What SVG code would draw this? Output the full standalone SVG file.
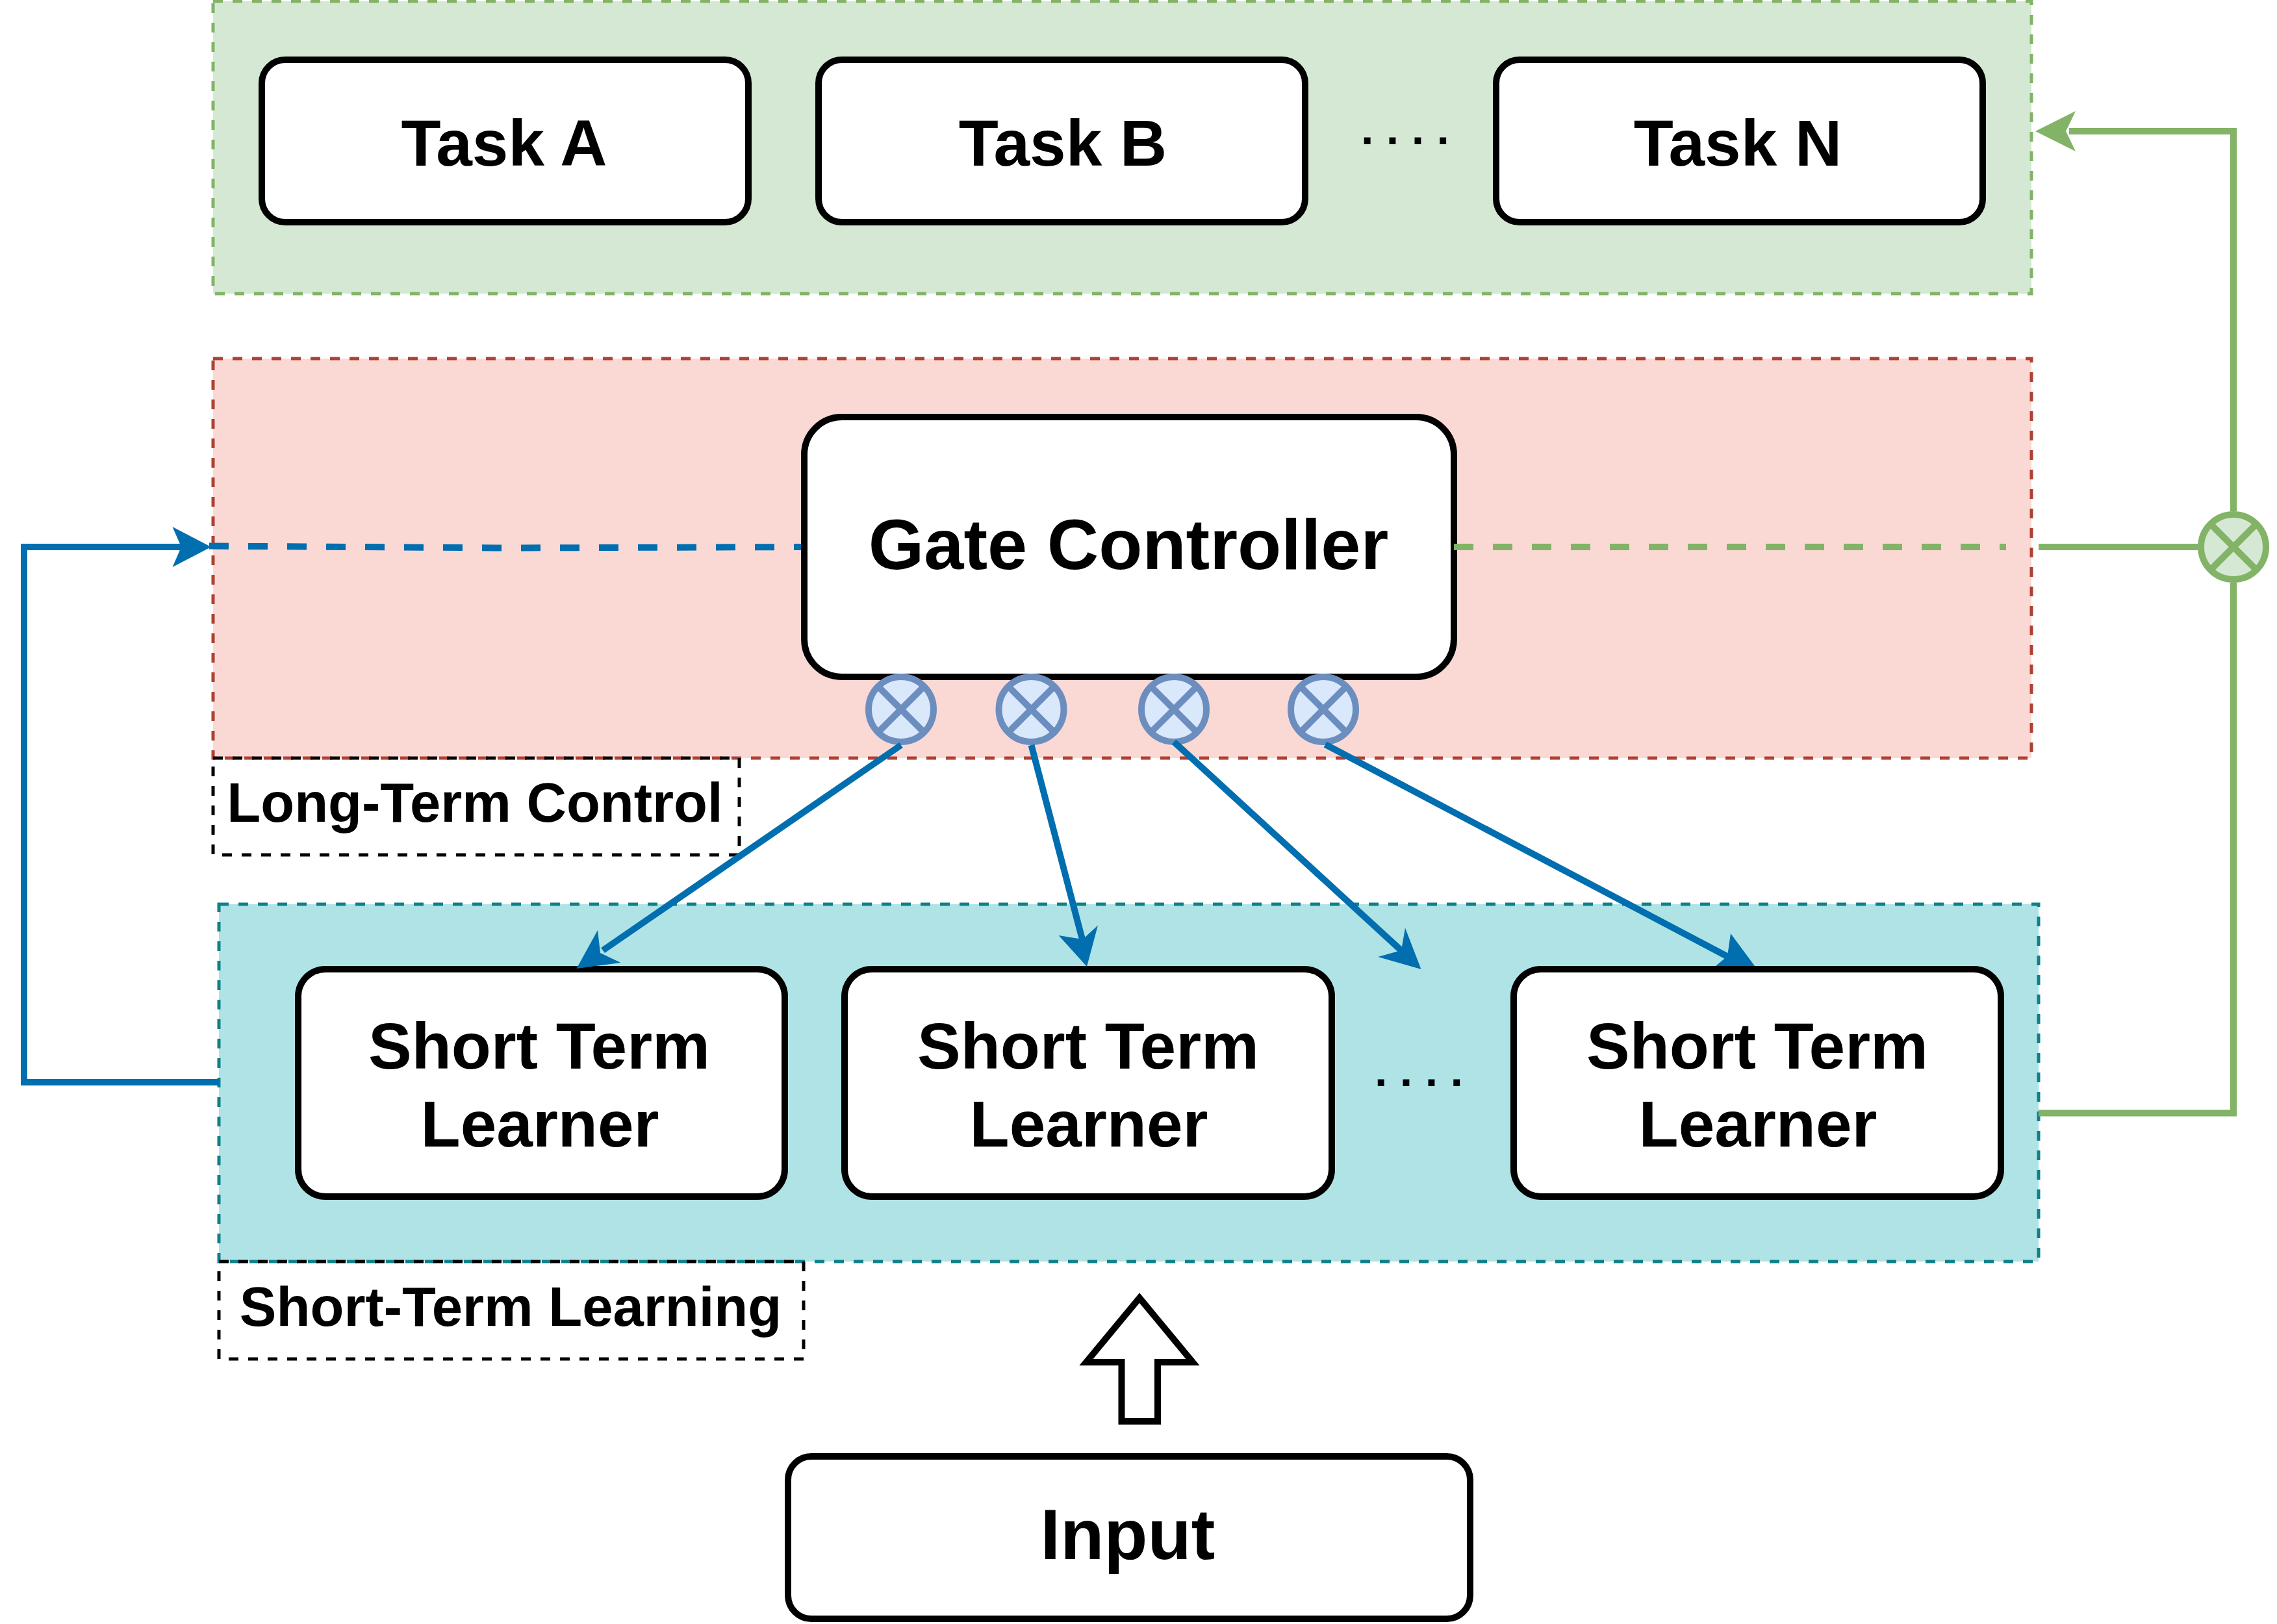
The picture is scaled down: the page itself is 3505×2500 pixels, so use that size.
<svg xmlns="http://www.w3.org/2000/svg" width="3505" height="2500" viewBox="0 0 3505 2500">
<style>
text{font-family:"Liberation Sans",Arial,sans-serif;font-weight:700;fill:#000;text-anchor:middle}
.f100{font-size:100px}.f110{font-size:110px}.f85{font-size:85px}.f71{font-size:70px}
.box{fill:#fff;stroke:#000;stroke-width:10}
.region{stroke-width:5;stroke-dasharray:15 15}
.lbl{fill:none;stroke:#000;stroke-width:5;stroke-dasharray:15 15}
.sum{fill:#dae8fc;stroke:#6c8ebf;stroke-width:10}
.sumg{fill:#d5e8d4;stroke:#82b366;stroke-width:10}
.blue{fill:none;stroke:#006eaf;stroke-width:10}
.green{fill:none;stroke:#82b366;stroke-width:10}
.dash{stroke-dasharray:30 30}
.hb{fill:#006eaf}.hg{fill:#82b366}
</style>
<defs>
<g id="sumx"><circle r="50"/><path d="M-35.4-35.4 35.4 35.4M-35.4 35.4 35.4-35.4" fill="none"/></g>
</defs>
<g id="region-tasks"><rect class="region" x="328" y="2" width="2799" height="450" fill="#d5e8d4" stroke="#82b366"/></g>
<g id="region-long-term"><rect class="region" x="328" y="552" width="2799" height="615" fill="#fad9d5" stroke="#ae4132"/></g>
<g id="region-short-term"><rect class="region" x="337" y="1392" width="2801" height="550" fill="#b0e3e6" stroke="#0e8088"/></g>
<g id="label-long-term"><rect class="lbl" x="328" y="1167" width="810" height="149"/><text class="f85" x="731" y="1265">Long-Term Control</text></g>
<g id="label-short-term"><rect class="lbl" x="337" y="1942" width="900" height="150"/><text class="f85" x="786" y="2041">Short-Term Learning</text></g>
<g id="task-a"><rect class="box" x="403" y="92" width="749" height="250" rx="36"/><text class="f100" x="776" y="255">Task A</text></g>
<g id="task-b"><rect class="box" x="1260" y="92" width="749" height="250" rx="36"/><text class="f100" x="1636" y="255">Task B</text></g>
<g id="task-dots"><text class="f71" x="2163" y="222">. . . .</text></g>
<g id="task-n"><rect class="box" x="2303" y="92" width="749" height="250" rx="36"/><text class="f100" x="2675" y="255">Task N</text></g>
<g id="gate-controller"><rect class="box" x="1238" y="642" width="1000" height="400" rx="58"/><text class="f110" x="1737" y="876">Gate Controller</text></g>
<g id="sum-1" class="sum" transform="translate(1387 1092)"><use href="#sumx"/></g>
<g id="sum-2" class="sum" transform="translate(1587.500 1092)"><use href="#sumx"/></g>
<g id="sum-3" class="sum" transform="translate(1807 1092)"><use href="#sumx"/></g>
<g id="sum-4" class="sum" transform="translate(2037 1092)"><use href="#sumx"/></g>
<g id="sum-green" class="sumg" transform="translate(3438 842)"><use href="#sumx"/></g>
<g id="learner-1"><rect class="box" x="459" y="1492" width="749" height="350" rx="42"/><text class="f100" x="830" y="1645">Short Term</text><text class="f100" x="831" y="1765">Learner</text></g>
<g id="learner-2"><rect class="box" x="1300" y="1492" width="750" height="350" rx="42"/><text class="f100" x="1675" y="1645">Short Term</text><text class="f100" x="1676" y="1765">Learner</text></g>
<g id="learner-dots"><text class="f71" x="2184" y="1672">. . . .</text></g>
<g id="learner-3"><rect class="box" x="2330" y="1492" width="750" height="350" rx="42"/><text class="f100" x="2705" y="1645">Short Term</text><text class="f100" x="2706" y="1765">Learner</text></g>
<g id="input-arrow"><path d="M1754 1998 1836 2097H1782V2188H1726.500V2097H1672Z" fill="#fff" stroke="#000" stroke-width="10"/></g>
<g id="input"><rect class="box" x="1213" y="2242" width="1050" height="250" rx="36"/><text class="f110" x="1736" y="2400">Input</text></g>
<g id="connectors">
<path class="blue dash" d="M322 840.500 780 843.500 1233 842"/>
<path class="blue" d="M337 1666H37V842H285"/>
<path class="hb" d="M325 842 265.500 811 279 842 265.500 873Z"/>
<path class="green dash" d="M2238 842H3088"/>
<path class="green" d="M3138 842H3383M3138 1713.500H3438V897M3438 787V202H3185"/>
<path class="hg" d="M3133 202 3195 171 3180 202 3195 233Z"/>
<path class="blue" d="M1387 1147 928 1463"/>
<path class="hb" d="M887.500 1491 920 1432 924 1467 955.600 1482Z"/>
<path class="blue" d="M1587.500 1147 1667 1450"/>
<path class="hb" d="M1673 1488 1629.600 1440 1666.600 1446 1690 1424.600Z"/>
<path class="blue" d="M1807 1142 2160 1466"/>
<path class="hb" d="M2187.500 1492 2121 1473 2157 1463 2163 1428.500Z"/>
<path class="blue" d="M2040 1146 2662 1474"/>
<path class="hb" d="M2701 1487 2664 1437 2659 1472 2641 1487Z"/>
</g>
</svg>
